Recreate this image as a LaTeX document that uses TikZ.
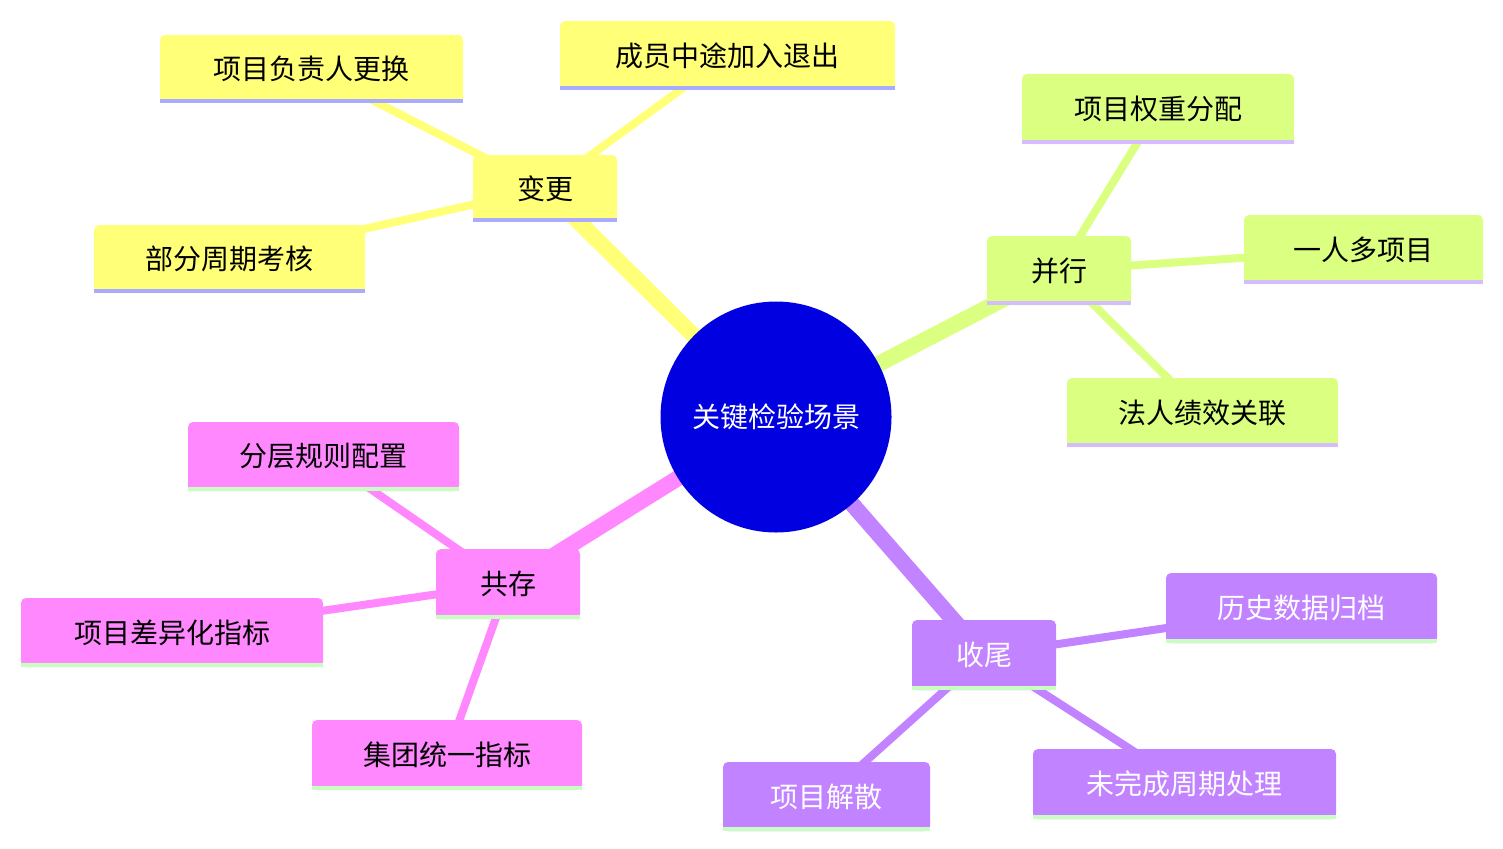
\documentclass[tikz,border=0pt]{standalone}
\usepackage{fontspec}
\setmainfont{Noto Sans CJK SC}
\definecolor{cy}{HTML}{FFFF78}
\definecolor{cg}{HTML}{DBFF80}
\definecolor{cp}{HTML}{FF88FF}
\definecolor{cv}{HTML}{C183FF}
\definecolor{sb}{HTML}{AAAAFF}
\definecolor{sp}{HTML}{D4BCFF}
\definecolor{sg}{HTML}{C8FFC0}
\definecolor{cb}{HTML}{0000E0}
\pgfdeclarelayer{bg}\pgfsetlayers{bg,main}
\tikzset{box/.style={rectangle,rounded corners=5pt,inner sep=0pt,font=\fontsize{28}{30}\selectfont},
 thick1/.style={line width=16pt},thin1/.style={line width=8pt}}
\newcommand\mnode[8]{% name x1 y1 x2 y2 text fill stripe(+textcolor)
 \node[box,fill=#7,minimum width={(#4-#2)*1pt},minimum height={(#5-#3)*1pt},#8] (#1) at ({(#2+#4)/2},{(#3+#5)/2}) {#6};
}
\newcommand\stripe[2]{\draw[#2,line width=4pt] ([yshift=2pt]#1.south west)--([yshift=2pt]#1.south east);}
\begin{document}
\begin{tikzpicture}[x=1pt,y=-1pt]
\useasboundingbox (0,0) rectangle (1503,848);
\node[circle,fill=cb,minimum size=231pt,text=white,font=\fontsize{28}{30}\selectfont] (c) at (776,417) {关键检验场景};
\mnode{a}{473}{155}{617}{222}{变更}{cy}{}
\mnode{a1}{160}{35}{463}{103}{项目负责人更换}{cy}{}
\mnode{a2}{560}{21}{895}{90}{成员中途加入退出}{cy}{}
\mnode{a3}{94}{225}{365}{293}{部分周期考核}{cy}{}
\mnode{b}{987}{236}{1131}{305}{并行}{cg}{}
\mnode{b1}{1022}{74}{1294}{144}{项目权重分配}{cg}{}
\mnode{b2}{1244}{215}{1483}{284}{一人多项目}{cg}{}
\mnode{b3}{1067}{378}{1338}{447}{法人绩效关联}{cg}{}
\mnode{p}{436}{549}{580}{619}{共存}{cp}{}
\mnode{p1}{188}{422}{459}{491}{分层规则配置}{cp}{}
\mnode{p2}{21}{598}{323}{667}{项目差异化指标}{cp}{}
\mnode{p3}{312}{720}{582}{790}{集团统一指标}{cp}{}
\mnode{v}{912}{620}{1056}{690}{收尾}{cv}{text=white}
\mnode{v1}{1166}{573}{1437}{643}{历史数据归档}{cv}{text=white}
\mnode{v2}{1033}{749}{1336}{819}{未完成周期处理}{cv}{text=white}
\mnode{v3}{723}{762}{930}{831}{项目解散}{cv}{text=white}
\foreach \n in {a,a1,a2,a3}{\stripe{\n}{sb}}
\foreach \n in {b,b1,b2,b3}{\stripe{\n}{sp}}
\foreach \n in {p,p1,p2,p3,v,v1,v2,v3}{\stripe{\n}{sg}}
\begin{pgfonlayer}{bg}
\draw[thick1,cy] (c.center)--(a.center);
\draw[thick1,cg] (c.center)--(b.center);
\draw[thick1,cp] (c.center)--(p.center);
\draw[thick1,cv] (c.center)--(v.center);
\foreach \n in {a1,a2,a3}{\draw[thin1,cy] (a.center)--(\n.center);}
\foreach \n in {b1,b2,b3}{\draw[thin1,cg] (b.center)--(\n.center);}
\foreach \n in {p1,p2,p3}{\draw[thin1,cp] (p.center)--(\n.center);}
\foreach \n in {v1,v2,v3}{\draw[thin1,cv] (v.center)--(\n.center);}
\end{pgfonlayer}
\end{tikzpicture}
\end{document}
